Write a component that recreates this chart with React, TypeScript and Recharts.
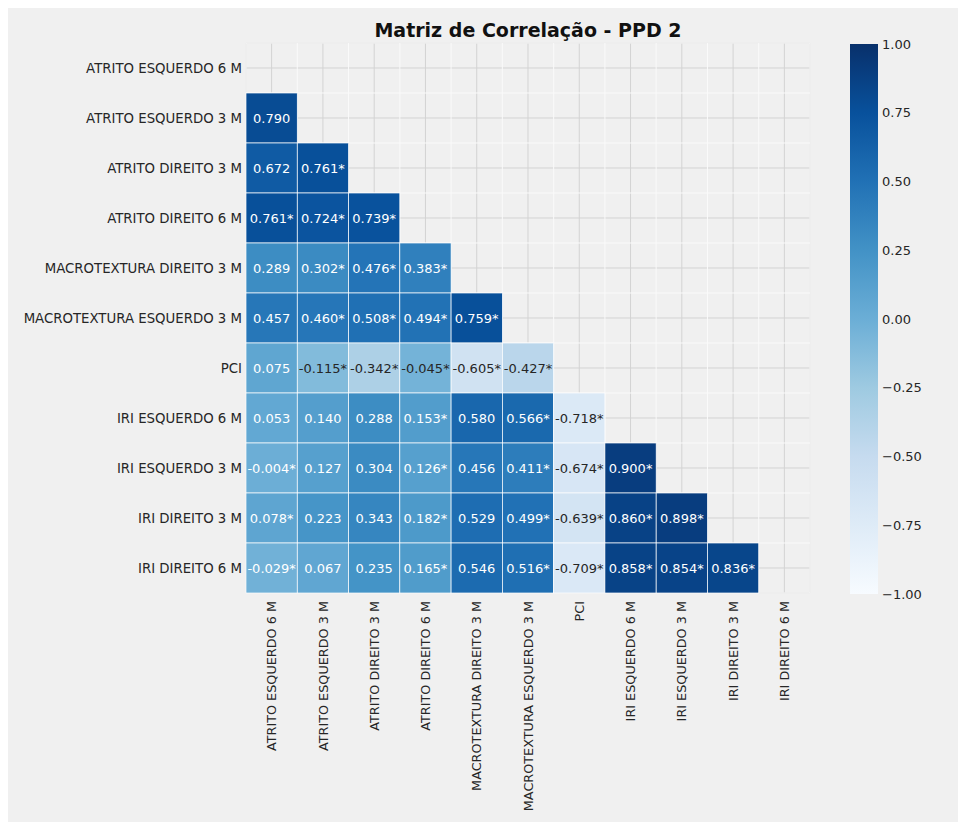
import React from 'react';
import {
  Bar,
  BarChart,
  CartesianGrid,
  ReferenceLine,
  Scatter,
  ScatterChart,
  XAxis,
  YAxis,
} from 'recharts';

const variables = [
  'ATRITO ESQUERDO 6 M',
  'ATRITO ESQUERDO 3 M',
  'ATRITO DIREITO 3 M',
  'ATRITO DIREITO 6 M',
  'MACROTEXTURA DIREITO 3 M',
  'MACROTEXTURA ESQUERDO 3 M',
  'PCI',
  'IRI ESQUERDO 6 M',
  'IRI ESQUERDO 3 M',
  'IRI DIREITO 3 M',
  'IRI DIREITO 6 M',
];

// lower triangle, row i holds columns 0..i-1
const corrRows: number[][] = [
  [],
  [0.79],
  [0.672, 0.761],
  [0.761, 0.724, 0.739],
  [0.289, 0.302, 0.476, 0.383],
  [0.457, 0.46, 0.508, 0.494, 0.759],
  [0.075, -0.115, -0.342, -0.045, -0.605, -0.427],
  [0.053, 0.14, 0.288, 0.153, 0.58, 0.566, -0.718],
  [-0.004, 0.127, 0.304, 0.126, 0.456, 0.411, -0.674, 0.9],
  [0.078, 0.223, 0.343, 0.182, 0.529, 0.499, -0.639, 0.86, 0.898],
  [-0.029, 0.067, 0.235, 0.165, 0.546, 0.516, -0.709, 0.858, 0.854, 0.836],
];

// significance marks (*)
const sigRows: boolean[][] = [
  [],
  [false],
  [false, true],
  [true, true, true],
  [false, true, true, true],
  [false, true, true, true, true],
  [false, true, true, true, true, true],
  [false, false, false, true, false, true, true],
  [true, false, false, true, false, true, true, true],
  [true, false, false, true, false, true, true, true, true],
  [true, false, false, true, false, true, true, true, true, true],
];

const colorbarTicks = [-1, -0.75, -0.5, -0.25, 0, 0.25, 0.5, 0.75, 1];

// matplotlib "Blues"
const BLUES = [
  '#f7fbff',
  '#deebf7',
  '#c6dbef',
  '#9ecae1',
  '#6baed6',
  '#4292c6',
  '#2171b5',
  '#08519c',
  '#08306b',
];

const N = variables.length;
const PLOT_W = 564;
const PLOT_H = 550;
const CELL_W = PLOT_W / N;
const CELL_H = PLOT_H / N;
const FONT = '"DejaVu Sans", Verdana, sans-serif';
const TEXT = '#262626';

const hexToRgb = (h: string) => [
  parseInt(h.slice(1, 3), 16),
  parseInt(h.slice(3, 5), 16),
  parseInt(h.slice(5, 7), 16),
];

const bluesRgb = (v: number) => {
  const t = Math.min(1, Math.max(0, (v + 1) / 2)) * (BLUES.length - 1);
  const i = Math.min(BLUES.length - 2, Math.floor(t));
  const f = t - i;
  const a = hexToRgb(BLUES[i]);
  const b = hexToRgb(BLUES[i + 1]);
  return a.map((c, k) => c + (b[k] - c) * f);
};

const toHex = (rgb: number[]) =>
  '#' + rgb.map((c) => Math.round(c).toString(16).padStart(2, '0')).join('');

const luminance = (rgb: number[]) => {
  const lin = rgb.map((c) => {
    const s = c / 255;
    return s <= 0.03928 ? s / 12.92 : Math.pow((s + 0.055) / 1.055, 2.4);
  });
  return 0.2126 * lin[0] + 0.7152 * lin[1] + 0.0722 * lin[2];
};

const cells = corrRows.flatMap((row, i) =>
  row.map((value, j) => {
    const rgb = bluesRgb(value);
    return {
      x: j + 0.5,
      y: i + 0.5,
      value,
      fill: toHex(rgb),
      textColor: luminance(rgb) > 0.408 ? TEXT : '#ffffff',
      label: value.toFixed(3) + (sigRows[i][j] ? '*' : ''),
    };
  })
);

const centers = variables.map((_, i) => i + 0.5);
const edges = Array.from({ length: N + 1 }, (_, i) => i);

const HeatCell = (props: any) => {
  const { cx, cy, payload } = props;
  if (cx == null || cy == null) return null;
  return (
    <g>
      <rect
        x={cx - CELL_W / 2}
        y={cy - CELL_H / 2}
        width={CELL_W}
        height={CELL_H}
        fill={payload.fill}
        stroke="#ffffff"
        strokeWidth={0.7}
      />
      <text
        x={cx}
        y={cy}
        textAnchor="middle"
        dominantBaseline="central"
        fontSize={13}
        fontFamily={FONT}
        fill={payload.textColor}
      >
        {payload.label}
      </text>
    </g>
  );
};

const XTick = (props: any) => {
  const { x, y, payload } = props;
  return (
    <text
      transform={`translate(${x},${y}) rotate(-90)`}
      textAnchor="end"
      dy="0.36em"
      fontSize={12.8}
      fontFamily={FONT}
      fill={TEXT}
    >
      {variables[Math.floor(payload.value)]}
    </text>
  );
};

const YTick = (props: any) => {
  const { x, y, payload } = props;
  return (
    <text
      x={x}
      y={y}
      textAnchor="end"
      dy="0.36em"
      fontSize={13.3}
      fontFamily={FONT}
      fill={TEXT}
    >
      {variables[Math.floor(payload.value)]}
    </text>
  );
};

const CbTick = (props: any) => {
  const { x, y, payload } = props;
  return (
    <text
      x={x}
      y={y}
      textAnchor="start"
      dy="0.36em"
      fontSize={13}
      fontFamily={FONT}
      fill={TEXT}
    >
      {payload.value.toFixed(2).replace('-', '\u2212')}
    </text>
  );
};

export default function App() {
  return (
    <>
      <style>{'html, body { overflow: hidden; }'}</style>
      <div
        style={{
          position: 'absolute',
          left: 8,
          top: 8,
          width: 950,
          height: 814,
          background: '#f0f0f0',
          fontFamily: FONT,
        }}
      >
        <div
          style={{
            position: 'absolute',
            left: 238,
            width: PLOT_W,
            top: 10,
            textAlign: 'center',
            fontSize: 19,
            fontWeight: 'bold',
            color: '#111111',
            lineHeight: '24px',
          }}
        >
          Matriz de Correlação - PPD 2
        </div>

        <div style={{ position: 'absolute', left: 0, top: 0 }}>
          <ScatterChart
            width={942}
            height={814}
            margin={{ top: 35, right: 140, bottom: 0, left: 0 }}
          >
            <CartesianGrid stroke="#d3d3d3" strokeWidth={1} fill="none" />
            <XAxis
              type="number"
              dataKey="x"
              domain={[0, N]}
              ticks={centers}
              interval={0}
              axisLine={false}
              tickLine={false}
              tickSize={0}
              height={229}
              tickMargin={8}
              tick={<XTick />}
            />
            <YAxis
              type="number"
              dataKey="y"
              domain={[0, N]}
              reversed
              ticks={centers}
              interval={0}
              axisLine={false}
              tickLine={false}
              tickSize={0}
              width={238}
              tickMargin={4}
              tick={<YTick />}
            />
            {edges.map((e) => (
              <ReferenceLine
                key={`vx${e}`}
                x={e}
                stroke="#fafafa"
                strokeWidth={1}
              />
            ))}
            {edges.map((e) => (
              <ReferenceLine
                key={`hy${e}`}
                y={e}
                stroke="#fafafa"
                strokeWidth={1}
              />
            ))}
            <Scatter
              data={cells}
              shape={<HeatCell />}
              isAnimationActive={false}
            />
          </ScatterChart>
        </div>

        <div style={{ position: 'absolute', left: 842, top: 26 }}>
          <BarChart
            width={100}
            height={PLOT_H + 20}
            data={[{ name: 'cb', range: [-1, 1] }]}
            margin={{ top: 10, right: 0, bottom: 10, left: 0 }}
            barCategoryGap={0}
          >
            <defs>
              <linearGradient id="bluesGrad" x1="0" y1="1" x2="0" y2="0">
                {BLUES.map((c, i) => (
                  <stop
                    key={c}
                    offset={`${(i / (BLUES.length - 1)) * 100}%`}
                    stopColor={c}
                  />
                ))}
              </linearGradient>
            </defs>
            <XAxis dataKey="name" hide />
            <YAxis
              orientation="right"
              type="number"
              domain={[-1, 1]}
              ticks={colorbarTicks}
              interval={0}
              axisLine={false}
              tickLine={false}
              tickSize={0}
              width={72}
              tickMargin={4}
              tick={<CbTick />}
            />
            <Bar
              dataKey="range"
              fill="url(#bluesGrad)"
              isAnimationActive={false}
            />
          </BarChart>
        </div>
      </div>
    </>
  );
}
